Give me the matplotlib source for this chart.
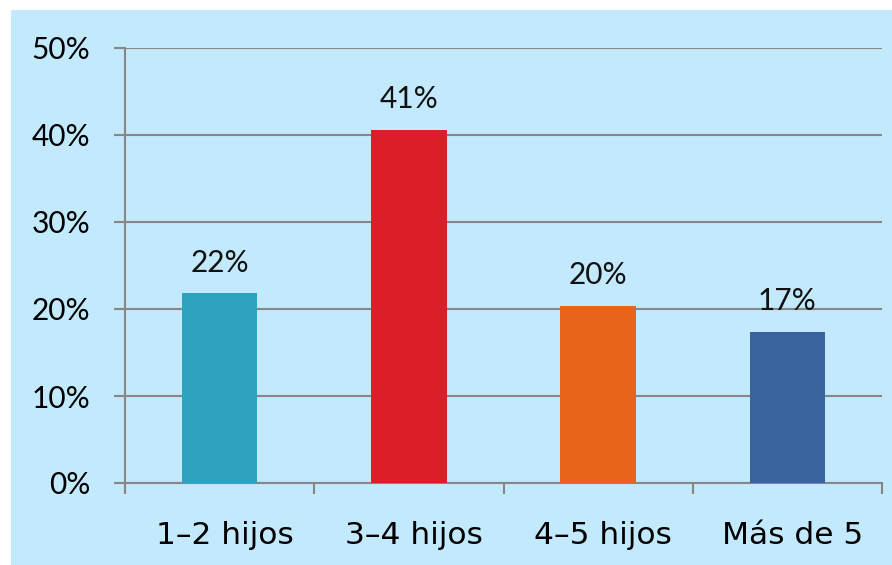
import numpy as np
import matplotlib.pyplot as plt
import matplotlib.transforms as mtransforms

categories = ['1–2 hijos', '3–4 hijos', '4–5 hijos', 'Más de 5']
values = [21.8, 40.6, 20.4, 17.4]
labels = ['22%', '41%', '20%', '17%']
colors = ['#2EA2C1', '#DA1F28', '#E8641B', '#38639C']
yticks = [0, 10, 20, 30, 40, 50]

bg = '#C2E9FC'
grid = '#878787'

fig = plt.figure(figsize=(8.92, 5.65), dpi=100)
fig.patch.set_facecolor('white')
# light blue panel behind the chart
fig.patches.append(plt.Rectangle((11 / 892, 0), 1, 1 - 10 / 565, transform=fig.transFigure,
                                 facecolor=bg, edgecolor='none', zorder=-10))
ax = fig.add_axes([125 / 892, 1 - 483 / 565, 757 / 892, 435 / 565])
ax.set_facecolor(bg)

x = np.arange(len(categories))
ax.bar(x, values, width=0.40, color=colors, zorder=3)
for xi, v, lab in zip(x, values, labels):
    ax.annotate(lab, (xi, v), xytext=(0, 12), textcoords='offset points',
                ha='center', va='bottom', fontsize=21.5, family='Lato', color='#111111')

ax.set_xlim(-0.5, len(categories) - 0.5)
ax.set_ylim(0, 50)
ax.set_yticks(yticks)
ax.set_yticklabels([f'{t}%' for t in yticks], fontsize=21.5, family='Lato')
ax.yaxis.grid(True, color=grid, linewidth=1.5, zorder=0)

ax.set_xticks(x)
ax.set_xticklabels(categories, fontsize=22.5, family='DejaVu Sans')
ax.set_xticks(np.arange(len(categories) + 1) - 0.5, minor=True)
ax.tick_params(axis='x', which='major', length=0, pad=27)
ax.tick_params(axis='x', which='minor', length=8, width=1.5, color=grid)
ax.tick_params(axis='y', length=8, width=1.5, color=grid, pad=17)

# category labels sit a little right of the slot centre
shift = mtransforms.ScaledTranslation(5 / 100, 0, fig.dpi_scale_trans)
for t in ax.get_xticklabels():
    t.set_transform(t.get_transform() + shift)

for s in ['top', 'right']:
    ax.spines[s].set_visible(False)
for s in ['left', 'bottom']:
    ax.spines[s].set_color(grid)
    ax.spines[s].set_linewidth(1.5)

fig.savefig('out.png', dpi=100, facecolor=fig.get_facecolor())
